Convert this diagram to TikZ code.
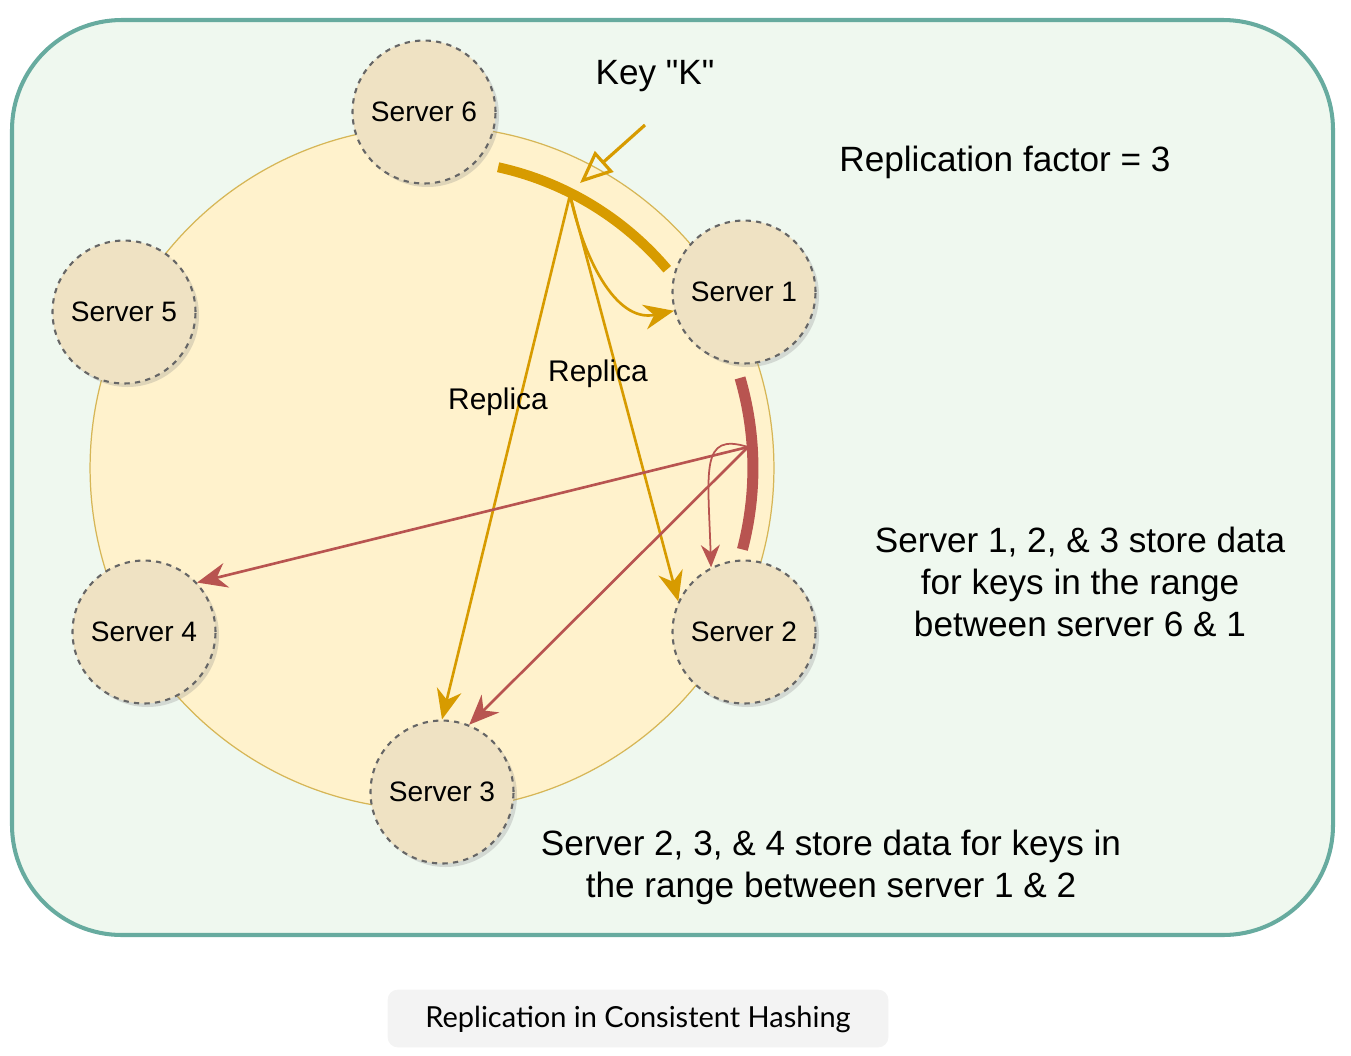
\documentclass[tikz,border=0pt]{standalone}
\usepackage{fontspec}
\setmainfont{Liberation Sans}
\newfontfamily\captionfont{Lato}
\usetikzlibrary{arrows.meta,shadows}
\definecolor{boxline}{HTML}{67AB9F}
\definecolor{boxfill}{HTML}{EFF8EF}
\definecolor{ringfill}{HTML}{FFF2CC}
\definecolor{ringline}{HTML}{D6B656}
\definecolor{serverfill}{HTML}{EFE2C3}
\definecolor{keygold}{HTML}{D79B00}
\definecolor{replred}{HTML}{B85450}
\definecolor{capfill}{HTML}{F3F3F3}
\tikzset{
  server/.style = {
    circle, draw=black!60, dashed, line width=1.2pt, fill=serverfill,
    minimum size=2.86cm, inner sep=0pt, font=\fontsize{16}{19}\selectfont,
    drop shadow={opacity=0.25, shadow xshift=2pt, shadow yshift=-2pt}
  },
  note/.style = {align=center, inner sep=0pt, font=\fontsize{20}{23.8}\selectfont},
  replica/.style = {inner sep=0pt, font=\fontsize{17}{20}\selectfont}
}
\tikzset{>={Stealth[length=0.6cm,width=0.5cm]}}

\begin{document}
\begin{tikzpicture}[x=0.02cm,y=-0.02cm]
  \useasboundingbox (0,0) rectangle (1351,1055);
  % outer box
  \draw[boxline,fill=boxfill,line width=2.3pt,rounded corners=2.2cm] (12,20) rectangle (1333,935);
  % hash ring
  \coordinate (ctr) at (432,468);
  \draw[ringline,fill=ringfill,line width=0.7pt] (ctr) circle (6.84cm);
  % ranges
  \draw[keygold,line width=0.2cm] (ctr) ++(77.6:6.16cm) arc[start angle=77.6,end angle=40.2,radius=6.16cm];
  \draw[replred,line width=0.22cm] (ctr) ++(16.3:6.42cm) arc[start angle=16.3,end angle=-14.7,radius=6.42cm];
  % coordinates
  \coordinate (kpos) at (570,195);
  \coordinate (rpos) at (748,447);
  \coordinate (keytail) at (645,125);
  % servers
  \node[server] (s6) at (424,112) {Server 6};
  \node[server] (s1) at (744,292) {Server 1};
  \node[server] (s5) at (124,312) {Server 5};
  \node[server] (s4) at (144,632) {Server 4};
  \node[server] (s2) at (744,632) {Server 2};
  \node[server] (s3) at (442,792) {Server 3};
  % key
  \node[note] (key) at (655,76) {Key \textquotedbl K\textquotedbl};
  \draw[keygold,line width=1.8pt,-{Triangle[open,length=0.65cm,width=0.55cm]}] (keytail) -- (580,183);
  % replicas of the key
  \draw[keygold,line width=1.5pt,->] (kpos) to[out=-78,in=192] (s1.195);
  \draw[keygold,line width=1.5pt,->] (kpos) -- (s2.155);
  \draw[keygold,line width=1.5pt,->] (kpos) -- (s3.north);
  \draw[replred,line width=1.5pt,->] (rpos) -- (s4.43);
  \draw[replred,line width=1.5pt,->] (rpos) -- (s3.68);
  \draw[replred,line width=1pt,-{Stealth[length=0.45cm,width=0.38cm]}] (rpos) .. controls (700,432) and (708,470) .. (s2.117);
  \node[replica] (rep1) at (498,402) {Replica};
  \node[replica] (rep2) at (598,374) {Replica};
  % notes
  \node[note] (factor) at (1005,162) {Replication factor = 3};
  \node[note] (range1) at (1080,582) {Server 1, 2, \& 3 store data\\for keys in the range\\between server 6 \& 1};
  \node[note] (range2) at (831,867) {Server 2, 3, \& 4 store data for keys in\\the range between server 1 \& 2};
  % caption
  \draw[capfill,fill=capfill,rounded corners=0.2cm] (388,990) rectangle (888,1047);
  \node[font=\captionfont\fontsize{16.5}{20}\selectfont,inner sep=0pt] (caption) at (638,1019) {Replication in Consistent Hashing};
\end{tikzpicture}
\end{document}
